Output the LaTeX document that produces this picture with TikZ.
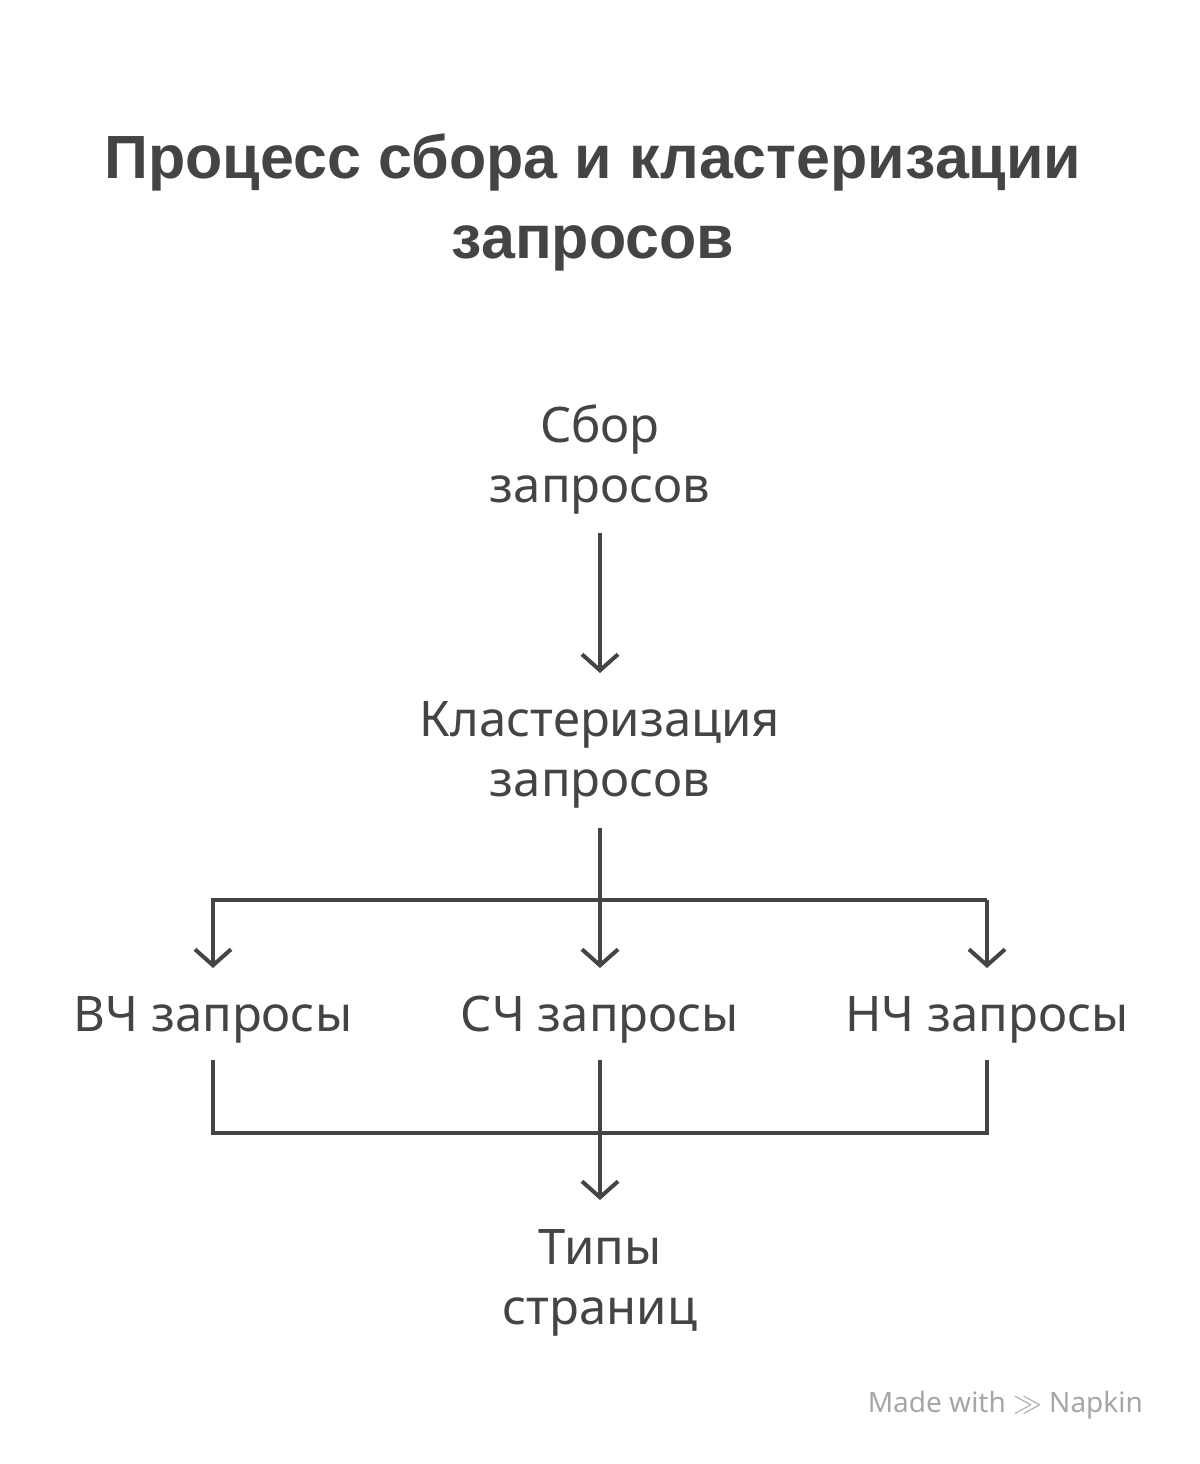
\documentclass[tikz,border=0pt]{standalone}
\usepackage{fontspec}
\setmainfont{Noto Sans}
\newfontfamily\tfont{Liberation Sans}
\usetikzlibrary{arrows.meta}
\definecolor{ink}{HTML}{444444}
\begin{document}
\begin{tikzpicture}[x=0.5pt,y=-0.5pt,
  lbl/.style={text=ink,align=center,font=\fontsize{24.5}{30}\selectfont},
  ttl/.style={text=ink,align=center,font=\tfont\bfseries\fontsize{30.5}{40}\selectfont},
  ln/.style={draw=ink,line width=2pt},
  ar/.style={ln,-{Straight Barb[length=8pt,width=18pt,line width=2pt]}}]
\useasboundingbox (0,0) rectangle (1200,1464);
\node[ttl] (t) at (593,202) {Процесс сбора и кластеризации\\запросов};
\node[lbl] (a) at (600,460) {Сбор\\запросов};
\node[lbl] (b) at (600,755) {Кластеризация\\запросов};
\node[lbl] (v) at (213,1020) {ВЧ запросы};
\node[lbl] (s) at (600,1020) {СЧ запросы};
\node[lbl] (n) at (987,1020) {НЧ запросы};
\node[lbl] (p) at (600,1283) {Типы\\страниц};
\coordinate (a1) at (600,533); \coordinate (a2) at (600,673);
\coordinate (b1) at (600,828);
\coordinate (bl) at (213,900); \coordinate (br) at (987,900);
\coordinate (vt) at (213,968); \coordinate (st) at (600,968); \coordinate (nt) at (987,968);
\coordinate (vb) at (213,1060); \coordinate (sb) at (600,1060); \coordinate (nb) at (987,1060);
\coordinate (vl) at (213,1133); \coordinate (nl) at (987,1133);
\coordinate (pt) at (600,1200);
\draw[ar] (a1) -- (a2);
\draw[ar] (b1) -- (st);
\draw[ar] (br) -- (bl) -- (vt);
\draw[ar] (br) -- (nt);
\draw[ln] (vb) -- (vl) -- (nl) -- (nb);
\draw[ar] (sb) -- (pt);
\node[text=gray!70,font=\fontsize{14}{16}\selectfont,anchor=east] (w) at (1150,1405) {Made with \textcolor{gray!70}{$\gg$} Napkin};
\end{tikzpicture}
\end{document}
